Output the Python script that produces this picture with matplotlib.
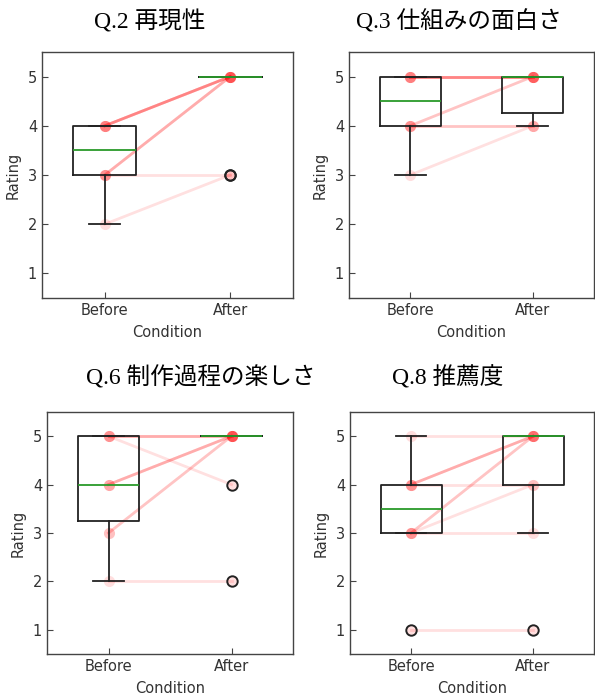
import matplotlib.pyplot as plt
import numpy as np

conditions = ['Before', 'After']

titles = ['Q.2 再現性', 'Q.3 仕組みの面白さ', 'Q.6 制作過程の楽しさ', 'Q.8 推薦度']

# paired ratings per participant (before, after)
q2_before = [4, 4, 4, 4, 4, 3, 3, 3, 3, 2]
q2_after = [5, 5, 5, 5, 5, 5, 5, 5, 3, 3]
q3_before = [5, 5, 5, 5, 5, 4, 4, 4, 4, 3]
q3_after = [5, 5, 5, 5, 5, 5, 5, 4, 4, 4]
q6_before = [5, 5, 5, 5, 4, 4, 4, 3, 3, 2]
q6_after = [5, 5, 5, 4, 5, 5, 5, 5, 5, 2]
q8_before = [5, 4, 4, 4, 4, 3, 3, 3, 3, 1]
q8_after = [5, 5, 5, 5, 4, 5, 5, 4, 3, 1]

before_all = [q2_before, q3_before, q6_before, q8_before]
after_all = [q2_after, q3_after, q6_after, q8_after]

fig = plt.figure(figsize=(5.95, 6.96), dpi=100)
W, H = 595, 696
# axes boxes in pixels: left, top, right, bottom
boxes = [(42, 52, 293, 298), (349, 52, 594, 298),
         (47, 412, 293, 654), (350, 412, 594, 654)]
title_pos = [(150, 22), (459, 22), (201, 378), (448, 378)]

for i in range(4):
    l, t, r, b = boxes[i]
    ax = fig.add_axes([l / W, 1 - b / H, (r - l) / W, (b - t) / H])
    bef = before_all[i]
    aft = after_all[i]
    for y0, y1 in zip(bef, aft):
        ax.plot([1, 2], [y0, y1], color='red', alpha=0.12, lw=2.0, zorder=1)
        ax.plot([1, 2], [y0, y1], 'o', color='red', alpha=0.13, ms=8,
                mec='none', zorder=1)
    ax.boxplot([bef, aft], positions=[1, 2], widths=0.5,
               boxprops=dict(color='#222222', lw=1.3),
               whiskerprops=dict(color='#222222', lw=1.3),
               capprops=dict(color='#222222', lw=1.3),
               medianprops=dict(color='#2a9a2a', lw=1.3),
               flierprops=dict(marker='o', mfc='none', mec='#222222',
                               mew=1.4, ms=7.5),
               zorder=3)
    ax.set_xlim(0.5, 2.5)
    ax.set_ylim(0.5, 5.5)
    ax.set_yticks([1, 2, 3, 4, 5])
    ax.set_xticks([1, 2])
    ax.set_xticklabels(conditions)
    ax.tick_params(direction='in', length=4, color='#444444',
                   labelcolor='#333333', labelsize=10.5)
    for s in ax.spines.values():
        s.set_color('#444444')
        s.set_linewidth(1.0)
    ax.set_xlabel('Condition', fontsize=10.5, color='#333333', labelpad=5)
    ax.set_ylabel('Rating', fontsize=10.5, color='#333333', labelpad=5)
    tx, ty = title_pos[i]
    fig.text(tx / W, 1 - ty / H, titles[i], ha='center', va='center',
             fontsize=17, family=['Liberation Serif', 'Noto Sans CJK JP'])

fig.savefig('out.png', dpi=100)
